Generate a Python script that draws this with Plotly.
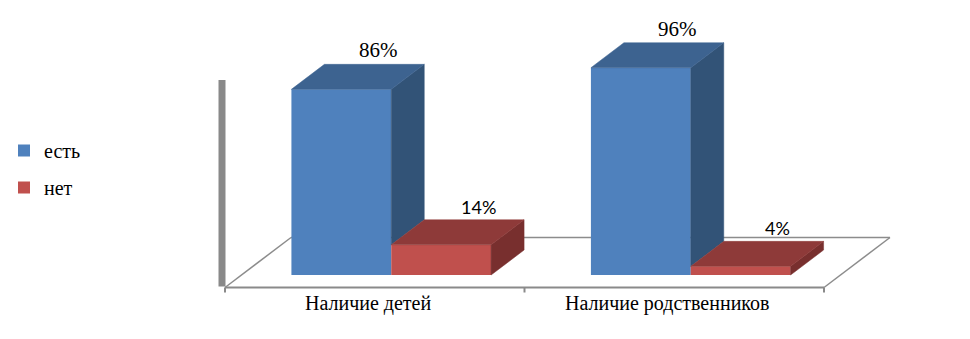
import plotly.graph_objects as go

# ---- data ----
categories = ["Наличие детей", "Наличие родственников"]
series_names = ["есть", "нет"]
yes_values = [86, 96]
no_values = [14, 4]
series_values = [yes_values, no_values]

# ---- styling ----
W, H = 970, 339
SERIF = "Liberation Serif"
SANS = "Lato"
front_colors = ["#4F81BD", "#C0504D"]
top_colors = ["#3D6390", "#8E3A39"]
side_colors = ["#325377", "#782F2E"]
label_fonts = [dict(family=SERIF, size=21, color="black"),
               dict(family=SANS, size=18, color="black")]

# ---- scale: pixel mapping of axis units (margins are zero) ----
PX_X = 299.5      # pixels per category
X0 = 391.25       # pixel of category 0 centre
PX_Y = 2.159      # pixels per percent
Y0 = 275.0        # pixel of 0 % at the bar plane
x_range = [-X0 / PX_X, (W - X0) / PX_X]
y_range = [-(H - Y0) / PX_Y, Y0 / PX_Y]
DX = 33 / PX_X    # depth offset (x units)
DY = 25 / PX_Y    # depth offset (y units)
BAR_W = 1 / 3
WALL_TOP = 90.3

fig = go.Figure()

n_series = len(series_values)
# front faces (bars)
for s in range(n_series):
    fig.add_trace(go.Bar(
        x=list(range(len(categories))), y=series_values[s],
        width=BAR_W, offset=-BAR_W + s * BAR_W,
        name=series_names[s], legendgroup=series_names[s],
        marker=dict(color=front_colors[s], line=dict(width=0)),
        hoverinfo="skip",
    ))

# top and side faces
for s in range(n_series):
    for i, v in enumerate(series_values[s]):
        xl = i - BAR_W + s * BAR_W
        xr = xl + BAR_W
        # side face, hidden below the neighbouring bar of the same row
        base = series_values[s + 1][i] if s + 1 < n_series else 0
        base = min(base, v)
        fig.add_trace(go.Scatter(
            x=[xr, xr, xr + DX, xr + DX, xr], y=[base, v, v + DY, base + DY, base],
            mode="lines", fill="toself", fillcolor=side_colors[s],
            line=dict(color=side_colors[s], width=0.5),
            showlegend=False, hoverinfo="skip"))
        fig.add_trace(go.Scatter(
            x=[xl, xr, xr + DX, xl + DX, xl], y=[v, v, v + DY, v + DY, v],
            mode="lines", fill="toself", fillcolor=top_colors[s],
            line=dict(color=top_colors[s], width=0.5),
            showlegend=False, hoverinfo="skip"))
        fig.add_annotation(
            x=(xl + xr) / 2 + DX + 4 / PX_X, y=v + DY, text=f"{v}%",
            showarrow=False, yanchor="bottom", xanchor="center",
            font=label_fonts[s])

# floor & wall (drawn below the bars)
ncat = len(categories)
fl = (-0.5 - 0.5 * DX, -0.5 * DY)
fr = (ncat - 0.5 - 0.5 * DX, -0.5 * DY)
br = (ncat - 0.5 + 1.5 * DX, 1.5 * DY)
bl = (-0.5 + 1.5 * DX, 1.5 * DY)
edge = "#8C8C8C"
shapes = []
for a, b in [(fl, bl), (bl, br), (br, fr)]:
    shapes.append(dict(type="line", xref="x", yref="y", x0=a[0], y0=a[1], x1=b[0], y1=b[1],
                       line=dict(color=edge, width=1.5), layer="below"))
shapes.append(dict(type="line", xref="x", yref="y", x0=fl[0], y0=fl[1], x1=fr[0], y1=fr[1],
                   line=dict(color="#8A8A8A", width=2), layer="below"))
for k in range(ncat + 1):
    tx = -0.5 + k - 0.5 * DX
    shapes.append(dict(type="line", xref="x", yref="y", x0=tx, y0=fl[1], x1=tx, y1=fl[1] - 5 / PX_Y,
                       line=dict(color="#8A8A8A", width=2), layer="below"))
shapes.append(dict(type="line", xref="x", yref="y", x0=fl[0] - 3 / PX_X, y0=fl[1] + 1 / PX_Y,
                   x1=fl[0] - 3 / PX_X, y1=WALL_TOP,
                   line=dict(color="#898989", width=7), layer="below"))

for i, c in enumerate(categories):
    fig.add_annotation(x=i - 0.5 * DX, y=fl[1], text=c, showarrow=False,
                       yanchor="top", xanchor="center", yshift=-2, xshift=-7,
                       font=dict(family=SERIF, size=20, color="black"))

fig.update_layout(
    width=W, height=H, autosize=False,
    margin=dict(l=0, r=0, t=0, b=0),
    paper_bgcolor="white", plot_bgcolor="white",
    barmode="overlay",
    shapes=shapes,
    showlegend=True,
    legend=dict(x=4 / W, xanchor="left", y=1 - 131 / H, yanchor="top",
                tracegroupgap=8, traceorder="grouped",
                font=dict(family=SERIF, size=20, color="black"),
                bgcolor="rgba(0,0,0,0)"),
    xaxis=dict(range=x_range, visible=False, fixedrange=True),
    yaxis=dict(range=y_range, visible=False, fixedrange=True),
)

fig.write_html("out.html")
